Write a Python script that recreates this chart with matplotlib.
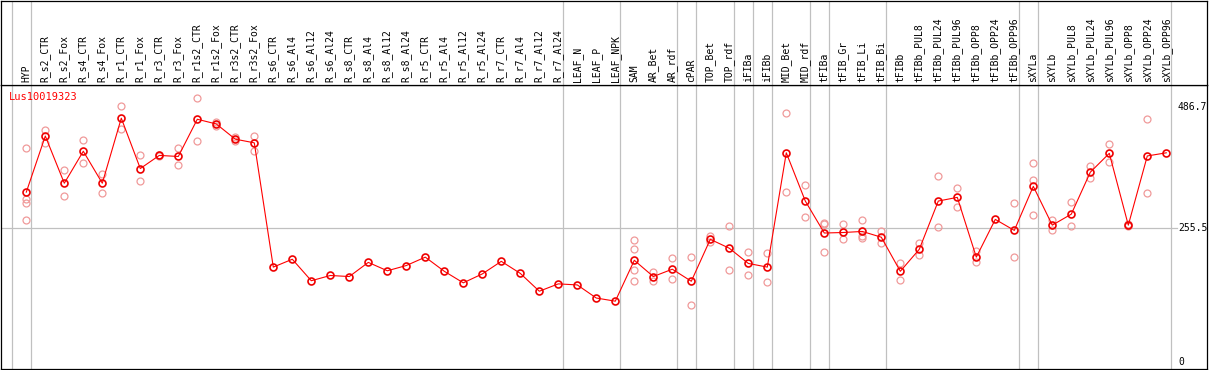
import matplotlib
matplotlib.use("Agg")
import matplotlib.pyplot as plt

## gene expression profile for one transcript across sample groups

gene = "Lus10019323"

samples = [
    "HYP", "R_s2_CTR", "R_s2_Fox", "R_s4_CTR", "R_s4_Fox", "R_r1_CTR", "R_r1_Fox",
    "R_r3_CTR", "R_r3_Fox", "R_r1s2_CTR", "R_r1s2_Fox", "R_r3s2_CTR", "R_r3s2_Fox",
    "R_s6_CTR", "R_s6_Al4", "R_s6_Al12", "R_s6_Al24", "R_s8_CTR", "R_s8_Al4",
    "R_s8_Al12", "R_s8_Al24", "R_r5_CTR", "R_r5_Al4", "R_r5_Al12", "R_r5_Al24",
    "R_r7_CTR", "R_r7_Al4", "R_r7_Al12", "R_r7_Al24", "LEAF_N", "LEAF_P", "LEAF_NPK",
    "SAM", "AR_Bet", "AR_rdf", "cPAR", "TOP_Bet", "TOP_rdf", "iFIBa", "iFIBb",
    "MID_Bet", "MID_rdf", "tFIBa", "tFIB_Gr", "tFIB_Li", "tFIB_Bi", "tFIBb",
    "tFIBb_PUL8", "tFIBb_PUL24", "tFIBb_PUL96", "tFIBb_OPP8", "tFIBb_OPP24",
    "tFIBb_OPP96", "sXYLa", "sXYLb", "sXYLb_PUL8", "sXYLb_PUL24", "sXYLb_PUL96",
    "sXYLb_OPP8", "sXYLb_OPP24", "sXYLb_OPP96",
]

means = [
    324, 431, 341, 402, 341, 465, 369, 394, 392, 463, 454, 425, 418,
    181, 196, 155, 165, 163, 190, 174, 184, 200, 173, 151, 168,
    192, 169, 135, 149, 147, 122, 116,
    194, 163, 177, 154, 234, 217, 188, 181,
    399, 307, 246, 247, 249, 238, 173,
    215, 307, 314, 200, 272, 251,
    335, 261, 282, 362, 398, 261, 393, 399,
]

replicates = [
    [408, 310, 304, 271], [442, 417], [366, 316], [423, 379], [358, 322],
    [488, 444], [394, 345], [395, 393], [409, 375], [504, 421], [458, 450],
    [430, 422], [432, 402],
    [], [], [], [], [], [], [], [], [], [], [], [], [], [], [], [], [], [], [],
    [232, 215, 175, 154], [172, 155], [198, 158], [200, 108], [241, 228],
    [259, 175], [209, 165], [207, 152],
    [475, 324], [337, 277], [266, 264, 209], [263, 234], [270, 240, 237],
    [249, 227], [189, 157],
    [227, 205], [354, 257], [331, 296], [211, 191], [], [303, 200],
    [379, 347, 280], [270, 252], [305, 259], [374, 350], [415, 381],
    [263, 259], [463, 322], [],
]

# group boundaries: a separator is drawn after these sample indices
separators_after = [-1, 0, 28, 31, 34, 35, 37, 38, 39, 41, 42, 45, 52, 53, 60]

y_ticks = [486.7, 255.5, 0]
grid_value = 255.5

W, H = 1209, 370
fig = plt.figure(figsize=(W / 100, H / 100), dpi=100)

x_lo = (1 - 26.3) / 19
x_hi = (1207 - 26.3) / 19
y_lo = (362 - 369) / 0.5243
y_hi = (362 - 85) / 0.5243

ax = fig.add_axes([1 / W, 1 / H, 1206 / W, 284 / H])
head = fig.add_axes([1 / W, 285 / H, 1206 / W, 84.5 / H])

for a in (ax, head):
    a.set_xlim(x_lo, x_hi)
    a.set_xticks([])
    a.set_yticks([])
    for s in a.spines.values():
        s.set_color("black")
        s.set_linewidth(0.9)
    for k in separators_after:
        a.axvline(k + 0.23, color="#c0c0c0", lw=0.9, zorder=0)

head.set_ylim(0, 1)
for i, name in enumerate(samples):
    head.text(i, 0.03, name, rotation=90, ha="center", va="bottom",
              family="DejaVu Sans Mono", fontsize=7)

ax.set_ylim(y_lo, y_hi)
x_grid_end = (1177 - 1) / 1206
ax.axhline(grid_value, xmax=x_grid_end, color="#c0c0c0", lw=0.9, zorder=0)

for t in y_ticks:
    ax.text((1178 - 26.3) / 19, t, f"{t:g}", ha="left", va="center",
            family="DejaVu Sans Mono", fontsize=7)

rx, ry = [], []
for i, reps in enumerate(replicates):
    for v in reps:
        rx.append(i)
        ry.append(v)
ax.plot(rx, ry, "o", ms=5, mfc="none", mec="#f09a9a", mew=0.9, zorder=2)

ax.plot(range(len(means)), means, "-o", color="#ff0000", lw=0.8,
        ms=5, mfc="none", mec="#ee0000", mew=1.2, zorder=3)

ax.text(0.0066, 0.957, gene, transform=ax.transAxes,
        ha="left", va="center", color="#ff0000", family="DejaVu Sans Mono", fontsize=7.5)

fig.savefig("out.png", dpi=100)
